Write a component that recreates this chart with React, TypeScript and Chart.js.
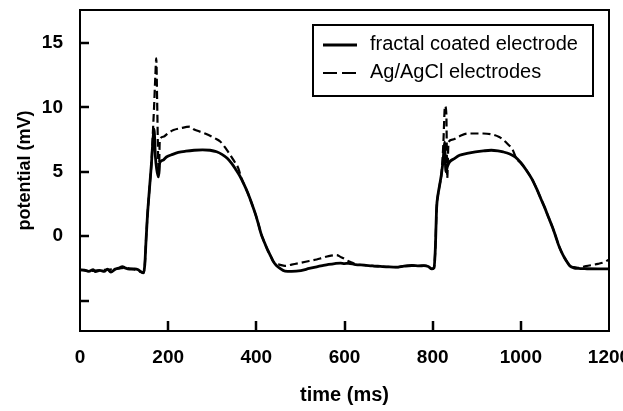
import React, { useEffect, useRef } from 'react';
import { Chart, registerables } from 'chart.js';

Chart.register(...registerables);

// ---- data ----
const xTickValues = [0, 200, 400, 600, 800, 1000, 1200];
const xTickLabels = ['0', '200', '400', '600', '800', '1000', '1200'];
const xTickMarks = [200, 400, 600, 800, 1000];
const yTickValues = [-5, 0, 5, 10, 15];
const yTickLabels = ['', '0', '5', '10', '15'];

const seriesLabels = ['fractal coated electrode', 'Ag/AgCl electrodes'];

const solidTime = [0, 10, 20, 30, 35, 45, 55, 62, 70, 80, 90, 96, 102, 112, 124, 132, 138, 144, 147, 150, 153, 156, 159, 162, 165, 168, 171, 174, 178, 181, 188, 196, 210, 223, 240, 259, 278, 295, 310, 322, 334, 344, 353, 362, 371, 380, 389, 398, 405, 411, 418, 425, 432, 438, 445, 452, 465, 480, 501, 520, 537, 550, 564, 578, 591, 600, 609, 625, 645, 663, 681, 700, 717, 735, 753, 770, 780, 790, 798, 803, 806, 809, 812, 816, 820, 824, 827, 830, 833, 838, 848, 861, 878, 897, 915, 933, 948, 960, 975, 987, 1000, 1013, 1025, 1036, 1045, 1054, 1063, 1072, 1079, 1085, 1092, 1099, 1106, 1112, 1120, 1130, 1150, 1175, 1200];
const solidPotential = [-2.6, -2.62, -2.72, -2.6, -2.75, -2.65, -2.72, -2.55, -2.78, -2.55, -2.45, -2.35, -2.45, -2.55, -2.53, -2.6, -2.76, -2.84, -2.2, -0.2, 1.6, 3.0, 4.3, 5.6, 7.2, 8.3, 6.2, 5.2, 4.6, 5.7, 5.9, 6.15, 6.35, 6.5, 6.6, 6.67, 6.7, 6.67, 6.55, 6.35, 6.05, 5.65, 5.2, 4.71, 4.1, 3.41, 2.6, 1.72, 0.9, 0.16, -0.45, -1.02, -1.5, -1.93, -2.25, -2.45, -2.7, -2.72, -2.66, -2.5, -2.37, -2.28, -2.19, -2.12, -2.08, -2.12, -2.1, -2.2, -2.24, -2.3, -2.34, -2.38, -2.4, -2.32, -2.27, -2.3, -2.28, -2.35, -2.53, -2.45, -1.0, 2.2, 3.2, 4.0, 4.84, 6.0, 7.3, 5.0, 5.36, 5.75, 6.0, 6.28, 6.42, 6.54, 6.62, 6.67, 6.62, 6.54, 6.38, 6.15, 5.7, 5.1, 4.45, 3.67, 2.95, 2.24, 1.45, 0.68, 0.0, -0.63, -1.2, -1.67, -2.05, -2.32, -2.45, -2.5, -2.52, -2.53, -2.53];

const dashedTime = [0, 20, 40, 60, 80, 100, 120, 138, 144, 147, 150, 153, 156, 159, 162, 165, 168, 171, 173, 175, 177, 179, 181, 189, 200, 212, 227, 249, 258, 265, 285, 306, 318, 333, 348, 359, 366, 371, 380, 389, 398, 405, 411, 418, 425, 432, 438, 445, 452, 465, 480, 501, 520, 537, 550, 564, 582, 591, 600, 609, 618, 625, 645, 663, 681, 700, 717, 735, 753, 770, 780, 790, 798, 803, 806, 809, 812, 816, 820, 824, 828, 831, 833, 836, 845, 861, 879, 915, 951, 969, 982, 990, 1000, 1013, 1025, 1036, 1045, 1054, 1063, 1072, 1079, 1085, 1092, 1099, 1106, 1112, 1120, 1130, 1148, 1175, 1190, 1200];
const dashedPotential = [-2.6, -2.7, -2.65, -2.6, -2.55, -2.45, -2.55, -2.76, -2.84, -2.2, -0.2, 1.6, 3.0, 4.3, 5.6, 7.8, 10.0, 12.5, 13.8, 10.5, 6.5, 4.8, 7.45, 7.72, 8.0, 8.24, 8.37, 8.5, 8.3, 8.2, 7.95, 7.6, 7.35, 6.7, 5.92, 5.28, 4.5, 4.1, 3.41, 2.6, 1.72, 0.9, 0.16, -0.45, -1.02, -1.5, -1.93, -2.15, -2.2, -2.3, -2.2, -2.06, -1.92, -1.8, -1.67, -1.54, -1.46, -1.6, -1.75, -1.93, -2.05, -2.18, -2.24, -2.3, -2.34, -2.38, -2.4, -2.32, -2.27, -2.3, -2.28, -2.35, -2.53, -2.45, -1.0, 2.2, 3.2, 4.0, 4.84, 7.0, 10.1, 9.5, 4.5, 7.3, 7.5, 7.76, 7.97, 7.97, 7.7, 7.19, 6.67, 6.0, 5.7, 5.1, 4.45, 3.67, 2.95, 2.24, 1.45, 0.68, 0.0, -0.63, -1.2, -1.67, -2.05, -2.32, -2.4, -2.45, -2.32, -2.14, -2.0, -1.8];

const FONT = "'Liberation Sans', Arial, Helvetica, sans-serif";

const zeroPad = (s: any) => {
  s.paddingLeft = 0;
  s.paddingRight = 0;
  s.paddingTop = 0;
  s.paddingBottom = 0;
};

const framePlugin = {
  id: 'frameAndLegend',
  afterDraw(chart: any) {
    const { ctx, chartArea: a, scales } = chart;
    ctx.save();
    ctx.strokeStyle = '#000';
    ctx.lineWidth = 2;
    ctx.strokeRect(a.left, a.top, a.right - a.left, a.bottom - a.top);
    ctx.lineWidth = 2.5;
    ctx.beginPath();
    xTickMarks.forEach((v) => {
      const px = Math.round(scales.x.getPixelForValue(v));
      ctx.moveTo(px, a.bottom);
      ctx.lineTo(px, a.bottom - 10);
    });
    yTickValues.forEach((v) => {
      const py = Math.round(scales.y.getPixelForValue(v));
      ctx.moveTo(a.left, py);
      ctx.lineTo(a.left + 9, py);
    });
    ctx.stroke();

    // legend box
    const bx = a.right - 296;
    const by = a.top + 15;
    const bw = 280;
    const bh = 71;
    ctx.fillStyle = '#fff';
    ctx.fillRect(bx, by, bw, bh);
    ctx.lineWidth = 2;
    ctx.strokeRect(bx, by, bw, bh);
    const ds = chart.data.datasets;
    const rows = [by + 20, by + 48];
    ctx.font = `20px ${FONT}`;
    ctx.fillStyle = '#000';
    ctx.textBaseline = 'middle';
    ctx.textAlign = 'left';
    ds.forEach((d: any, i: number) => {
      const y = rows[i];
      ctx.beginPath();
      ctx.lineWidth = i === 0 ? 3 : 2.2;
      ctx.setLineDash(i === 0 ? [] : [14, 5]);
      ctx.moveTo(bx + 10, y);
      ctx.lineTo(bx + 44, y);
      ctx.stroke();
      ctx.setLineDash([]);
      ctx.fillText(d.label, bx + 57, y - 1);
    });
    ctx.restore();
  },
};

export default function App() {
  const ref = useRef<HTMLCanvasElement>(null);
  useEffect(() => {
    if (!ref.current) return;
    const chart = new Chart(ref.current, {
      type: 'line',
      data: {
        datasets: [
          {
            label: seriesLabels[0],
            data: solidTime.map((t, i) => ({ x: t, y: solidPotential[i] })),
            borderColor: '#000',
            borderWidth: 2.8,
            pointRadius: 0,
            fill: false,
            cubicInterpolationMode: 'monotone',
          },
          {
            label: seriesLabels[1],
            data: dashedTime.map((t, i) => ({ x: t, y: dashedPotential[i] })),
            borderColor: '#000',
            borderWidth: 2.2,
            borderDash: [8, 4],
            pointRadius: 0,
            fill: false,
            cubicInterpolationMode: 'monotone',
          },
        ],
      },
      options: {
        responsive: false,
        animation: false,
        devicePixelRatio: 1,
        layout: { padding: { left: 0, right: 14, top: 10, bottom: 0 } },
        plugins: { legend: { display: false }, tooltip: { enabled: false } },
        scales: {
          x: {
            type: 'linear',
            min: 0,
            max: 1200,
            afterBuildTicks: (s: any) => {
              s.ticks = xTickValues.map((v) => ({ value: v }));
            },
            afterFit: (s: any) => {
              s.height = 80;
              zeroPad(s);
            },
            grid: { display: false, drawTicks: false },
            border: { display: false },
            ticks: {
              font: { family: FONT, size: 19, weight: 'bold' },
              color: '#000',
              padding: 15,
              maxRotation: 0,
              autoSkip: false,
              includeBounds: false,
              callback: (v: any) => {
                const i = xTickValues.indexOf(Number(v));
                return i >= 0 ? xTickLabels[i] : '';
              },
            },
            title: {
              display: true,
              text: 'time (ms)',
              font: { family: FONT, size: 20, weight: 'bold' },
              color: '#000',
              padding: { top: 0, bottom: 4 },
            },
          },
          y: {
            type: 'linear',
            min: -7.35,
            max: 17.55,
            afterBuildTicks: (s: any) => {
              s.ticks = yTickValues.map((v) => ({ value: v }));
            },
            afterFit: (s: any) => {
              s.width = 80;
              zeroPad(s);
            },
            grid: { display: false, drawTicks: false },
            border: { display: false },
            ticks: {
              font: { family: FONT, size: 19, weight: 'bold' },
              color: '#000',
              padding: 17,
              autoSkip: false,
              includeBounds: false,
              callback: (v: any) => {
                const i = yTickValues.indexOf(Number(v));
                return i >= 0 ? yTickLabels[i] : '';
              },
            },
            title: {
              display: true,
              text: 'potential (mV)',
              font: { family: FONT, size: 18, weight: 'bold' },
              color: '#000',
              padding: { top: 14, bottom: 0 },
            },
          },
        },
      },
      plugins: [framePlugin],
    } as any);
    return () => chart.destroy();
  }, []);
  return (
    <div style={{ position: 'absolute', left: 0, top: 0, width: 623, height: 411, background: '#fff' }}>
      <canvas ref={ref} width={623} height={411} style={{ display: 'block' }} />
    </div>
  );
}
